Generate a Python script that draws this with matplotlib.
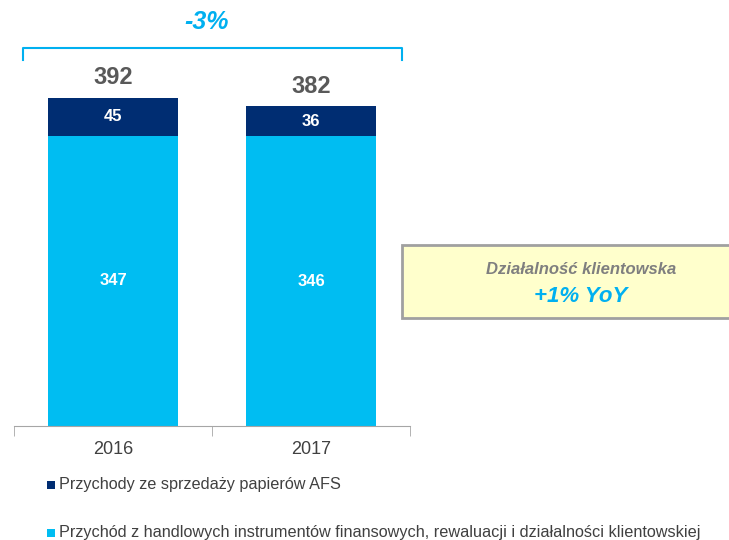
import matplotlib
matplotlib.use("Agg")
import matplotlib.pyplot as plt
from matplotlib.patches import Rectangle

plt.rcParams['font.family'] = ['Liberation Sans', 'DejaVu Sans']

years = ["2016", "2017"]
client = [347, 346]
afs = [45, 36]
totals = [392, 382]
series_names = ["Przychody ze sprzedaży papierów AFS",
                "Przychód z handlowych instrumentów finansowych, rewaluacji i działalności klientowskiej"]
change_label = "-3%"
box_title = "Działalność klientowska"
box_value = "+1% YoY"

W, H = 729, 540
fig = plt.figure(figsize=(W / 100, H / 100), dpi=100)

def fx(px):
    return px / W

def fy(py):
    return 1 - py / H

c_light = "#00bdf2"
c_dark = "#002d72"
c_gray = "#595959"

ax = fig.add_axes([fx(14), fy(426), fx(410) - fx(14), fy(0) - fy(426)])
ax.set_xlim(-0.5, 1.5)
ax.set_ylim(0, 426 / 0.837)
x = list(range(len(years)))
ax.bar(x, client, width=0.66, color=c_light, zorder=2)
ax.bar(x, afs, bottom=client, width=0.66, color=c_dark, zorder=2)

for i in x:
    ax.text(i, client[i] / 2, str(client[i]), ha="center", va="center",
            color="white", fontsize=12, fontweight="bold")
    ax.text(i, client[i] + afs[i] / 2, str(afs[i]), ha="center", va="center",
            color="white", fontsize=12, fontweight="bold")
    ax.text(i, totals[i] + 24, str(totals[i]), ha="center", va="center",
            color=c_gray, fontsize=17, fontweight="bold")

for s in ["top", "right", "left"]:
    ax.spines[s].set_visible(False)
ax.spines["bottom"].set_color("#a6a6a6")
ax.set_yticks([])
ax.set_xticks(x)
ax.set_xticklabels(years, fontsize=13, color="#404040")
ax.tick_params(axis="x", which="major", length=0, pad=11)
ax.set_xticks([-0.5, 0.5, 1.5], minor=True)
ax.tick_params(axis="x", which="minor", length=7, color="#a6a6a6", direction="out")

# bracket
yb = (426 - 48) / 0.837
yb2 = (426 - 60) / 0.837
xl = (23 - 14) / 198 - 0.5
xr = (402 - 14) / 198 - 0.5
ax.plot([xl, xl, xr, xr], [yb2, yb, yb, yb2], color="#00b0f0", lw=1.5,
        clip_on=False, solid_joinstyle="round")
fig.text(fx(207), fy(22), change_label, ha="center", va="center", color="#00b0f0",
         fontsize=18, fontweight="bold", fontstyle="italic")

# box
rect = Rectangle((fx(402), fy(318)), fx(740) - fx(402), fy(245) - fy(318),
                 transform=fig.transFigure, facecolor="#ffffcc",
                 edgecolor="#a0a0a0", lw=2)
fig.patches.append(rect)
fig.text(fx(581), fy(270), box_title, ha="center", va="center", color="#7f7f7f",
         fontsize=12, fontweight="bold", fontstyle="italic")
fig.text(fx(581), fy(297), box_value, ha="center", va="center", color="#00b0f0",
         fontsize=16, fontweight="bold", fontstyle="italic")

# legend
for yy, col, name in [(485, c_dark, series_names[0]), (533, c_light, series_names[1])]:
    fig.patches.append(Rectangle((fx(47), fy(yy + 4)), fx(8), fy(0) - fy(8),
                                 transform=fig.transFigure, facecolor=col, edgecolor="none"))
    fig.text(fx(59), fy(yy), name, ha="left", va="center", color="#404040",
             fontsize=11.7)

fig.savefig("out.png", dpi=100)
